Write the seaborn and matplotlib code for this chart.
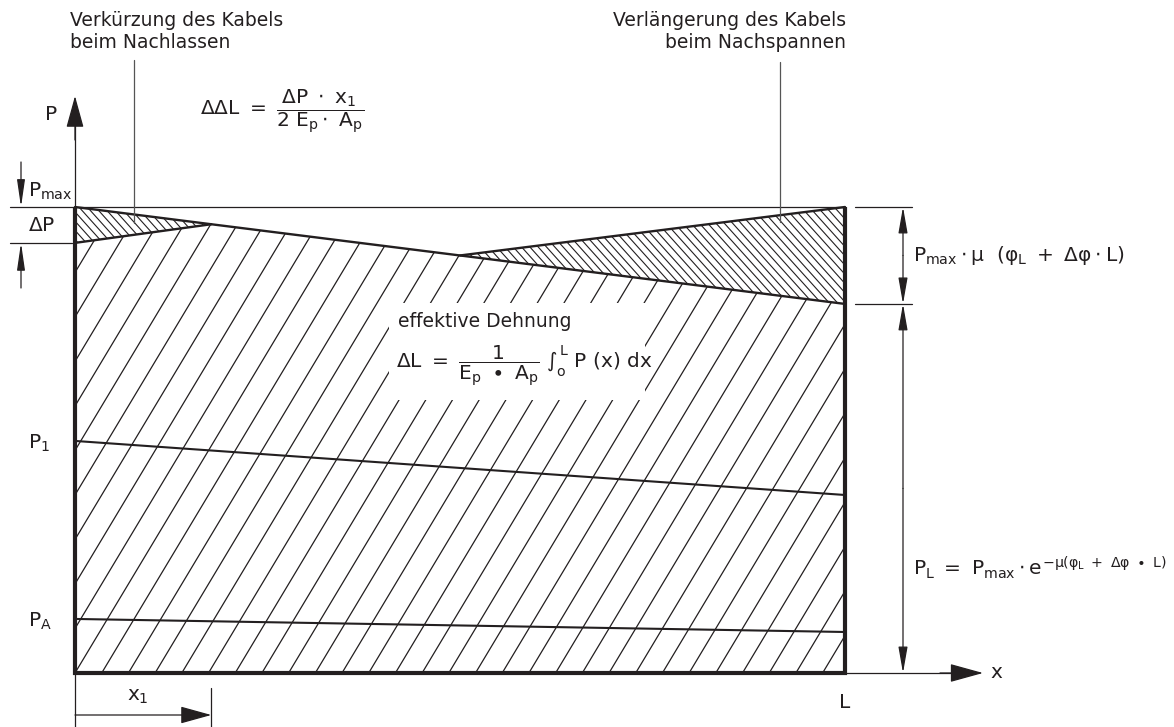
import numpy as np
import pandas as pd
import matplotlib
matplotlib.use("Agg")
import matplotlib.pyplot as plt
import seaborn as sns
from matplotlib.patches import Polygon, Rectangle
from matplotlib.collections import LineCollection

# ---------------- data (x in units of L, P in units of P_max) ----------------
x_nodes = [0.0, 0.177, 0.5, 1.0]            # 0, x1, intersection, L
p_tension = [1.0, 0.963, 0.896, 0.792]      # force curve after tensioning P(x)
x_release = [0.0, 0.177]
p_release = [0.923, 0.963]                  # after releasing (P_max - dP at anchor)
x_restress = [0.5, 1.0]
p_restress = [0.896, 1.0]                   # after re-stressing
x_p1 = [0.0, 1.0]
p_p1 = [0.498, 0.382]
x_pa = [0.0, 1.0]
p_pa = [0.116, 0.088]
x1_val = 0.177
p_L_val = 0.792
p_dP_val = 0.923

INK = '#231f20'
GREY = '#555555'

sns.set_theme(style="white")
plt.rcParams['font.family'] = ['DejaVu Sans']
plt.rcParams['mathtext.fontset'] = 'custom'
plt.rcParams['mathtext.rm'] = 'DejaVu Sans'
plt.rcParams['mathtext.it'] = 'DejaVu Sans'
plt.rcParams['mathtext.bf'] = 'DejaVu Sans:bold'
plt.rcParams['mathtext.sf'] = 'DejaVu Sans'

fig = plt.figure(figsize=(11.74, 7.27), dpi=100)
ax = fig.add_axes([0, 0, 1, 1])
SX, SY = 770.0, 466.0   # pixels per unit L / per unit P_max
OX, OY = 75.0, 673.0    # origin in pixels
ax.set_xlim(-OX / SX, (1174 - OX) / SX)
ax.set_ylim(-(727 - OY) / SY, OY / SY)
ax.axis('off')


def X(px):
    return (px - OX) / SX


def Y(py):
    return (OY - py) / SY


def hatch(xs, ys, spacing_px, slope_px, lw, offset_px=0.0):
    poly = Polygon(np.column_stack([xs, ys]), closed=True, fc='none', ec='none')
    ax.add_patch(poly)
    k = slope_px * SY / SX
    cs = (np.arange(-400, 400) * spacing_px + offset_px) / SX
    p0, p1 = -0.5, 1.5
    segs = [[(c + k * p0, p0), (c + k * p1, p1)] for c in cs]
    lc = LineCollection(segs, colors=INK, linewidths=lw, zorder=2)
    ax.add_collection(lc)
    lc.set_clip_path(poly)


def arrow(tail, tip, hl, hw, lw=0.9, color=INK):
    ax.annotate('', xy=tip, xytext=tail, xycoords='data', textcoords='data',
                arrowprops=dict(arrowstyle=f'-|>,head_length={hl},head_width={hw}',
                                mutation_scale=10, lw=lw, color=color,
                                shrinkA=0, shrinkB=0), zorder=6)


# ---------------- hatched regions ----------------
main_x = [0.0, 1.0, 1.0, x_nodes[2], x_nodes[1], 0.0]
main_y = [0.0, 0.0, p_tension[3], p_tension[2], p_tension[1], p_release[0]]
hatch(main_x, main_y, 26.7, 0.6, 0.9)

left_x = [0.0, x_release[1], 0.0]
left_y = [p_tension[0], p_release[1], p_release[0]]
hatch(left_x, left_y, 8.3, -0.9, 0.8)

right_x = [x_restress[0], 1.0, 1.0]
right_y = [p_restress[0], p_restress[1], p_tension[3]]
hatch(right_x, right_y, 8.3, -0.9, 0.8)

# white clearing behind the formula
ax.add_patch(Rectangle((X(389), Y(400)), X(645) - X(389), Y(303) - Y(400),
                       fc='white', ec='none', zorder=3))

# ---------------- curves ----------------
df_t = pd.DataFrame({'x': x_nodes, 'P': p_tension})
sns.lineplot(data=df_t, x='x', y='P', ax=ax, color=INK, lw=1.7, zorder=4, sort=False)
sns.lineplot(x=x_release, y=p_release, ax=ax, color=INK, lw=1.7, zorder=4, sort=False)
sns.lineplot(x=x_restress, y=p_restress, ax=ax, color=INK, lw=1.7, zorder=4, sort=False)
sns.lineplot(x=x_p1, y=p_p1, ax=ax, color=INK, lw=1.5, zorder=4, sort=False)
sns.lineplot(x=x_pa, y=p_pa, ax=ax, color=INK, lw=1.5, zorder=4, sort=False)

# P_max reference line
ax.plot([X(10), 1.0], [1.0, 1.0], color=INK, lw=0.9, zorder=4)

# thick frame
ax.plot([0, 0, 1, 1], [1.0, 0, 0, 1.0], color=INK, lw=3.0, zorder=5,
        solid_joinstyle='miter', solid_capstyle='butt')

# axes arrows
ax.plot([0, 0], [1.0, Y(120)], color=INK, lw=0.9, zorder=5)
arrow((0, Y(140)), (0, Y(96)), 2.0, 0.55, lw=0.9)
ax.plot([1.0, X(960)], [0, 0], color=INK, lw=0.9, zorder=5)
arrow((X(940), 0), (X(983), 0), 2.1, 0.58, lw=0.9)

# left dimension (P_max / dP)
ax.plot([X(10), X(72)], [p_dP_val, p_dP_val], color=INK, lw=0.9, zorder=5)
arrow((X(21), Y(162)), (X(21), 1.0), 1.65, 0.24, lw=0.9)
arrow((X(21), Y(288)), (X(21), p_dP_val), 1.65, 0.24, lw=0.9)

# right dimension
for pv in (1.0, p_L_val):
    ax.plot([X(855), X(912)], [pv, pv], color=INK, lw=0.9, zorder=5)
arrow((X(903), (1.0 + p_L_val) / 2), (X(903), 1.0), 1.6, 0.28, lw=0.9)
arrow((X(903), (1.0 + p_L_val) / 2), (X(903), p_L_val), 1.6, 0.28, lw=0.9)
arrow((X(903), p_L_val / 2), (X(903), p_L_val), 1.6, 0.28, lw=0.9)
arrow((X(903), p_L_val / 2), (X(903), 0.0), 1.6, 0.28, lw=0.9)

# x1 dimension
ax.plot([0, 0], [0, Y(727)], color=INK, lw=0.9, zorder=5)
ax.plot([x1_val, x1_val], [Y(688), Y(727)], color=INK, lw=0.9, zorder=5)
arrow((0, Y(715)), (x1_val, Y(715)), 1.95, 0.54, lw=0.9)

# leader lines
ax.plot([X(134), X(134)], [Y(60), Y(223)], color=GREY, lw=0.9, zorder=5)
ax.plot([X(780), X(780)], [Y(62), Y(222)], color=GREY, lw=0.9, zorder=5)

# ---------------- texts ----------------
fs_small = 13.5
fs = 14.5
ax.text(X(70), Y(21), 'Verkürzung des Kabels', fontsize=fs_small, color=INK,
        ha='left', va='center')
ax.text(X(70), Y(43), 'beim Nachlassen', fontsize=fs_small, color=INK,
        ha='left', va='center')
ax.text(X(846), Y(21), 'Verlängerung des Kabels', fontsize=fs_small, color=INK,
        ha='right', va='center')
ax.text(X(846), Y(43), 'beim Nachspannen', fontsize=fs_small, color=INK,
        ha='right', va='center')

ax.text(X(200), Y(112), r'$\Delta\Delta L\ =\ \dfrac{\Delta P\ \cdot\ x_1}{2\ E_p\cdot\ A_p}$',
        fontsize=fs, color=INK, ha='left', va='center')

ax.text(X(51), Y(114), 'P', fontsize=fs, color=INK, ha='center', va='center')
ax.text(X(28), Y(191), r'$P_{max}$', fontsize=fs, color=INK, ha='left', va='center')
ax.text(X(28), Y(226), r'$\Delta P$', fontsize=fs, color=INK, ha='left', va='center')
ax.text(X(28), Y(443), r'$P_1$', fontsize=fs, color=INK, ha='left', va='center')
ax.text(X(28), Y(621), r'$P_A$', fontsize=fs, color=INK, ha='left', va='center')
ax.text(X(138), Y(697), r'$x_1$', fontsize=fs, color=INK, ha='center', va='center')
ax.text(1.0, Y(702), 'L', fontsize=fs, color=INK, ha='center', va='center')
ax.text(X(996), 0, 'x', fontsize=fs, color=INK, ha='center', va='center')

ax.text(X(398), Y(322), 'effektive Dehnung', fontsize=fs_small, color=INK,
        ha='left', va='center', zorder=6)
ax.text(X(396), Y(366),
        r'$\Delta L\ =\ \dfrac{1}{E_p\ \bullet\ A_p}\ \int_o^L\ P\ (x)\ dx$',
        fontsize=fs, color=INK, ha='left', va='center', zorder=6)

ax.text(X(913), Y(256), r'$P_{max}\cdot\mu\ \ (\varphi_L\ +\ \Delta\varphi\cdot L)$',
        fontsize=fs, color=INK, ha='left', va='center')
ax.text(X(913), Y(568),
        r'$P_L\ =\ P_{max}\cdot e^{-\mu(\varphi_L\ +\ \Delta\varphi\ \bullet\ L)}$',
        fontsize=fs, color=INK, ha='left', va='center')

fig.savefig('out.png', dpi=100)
